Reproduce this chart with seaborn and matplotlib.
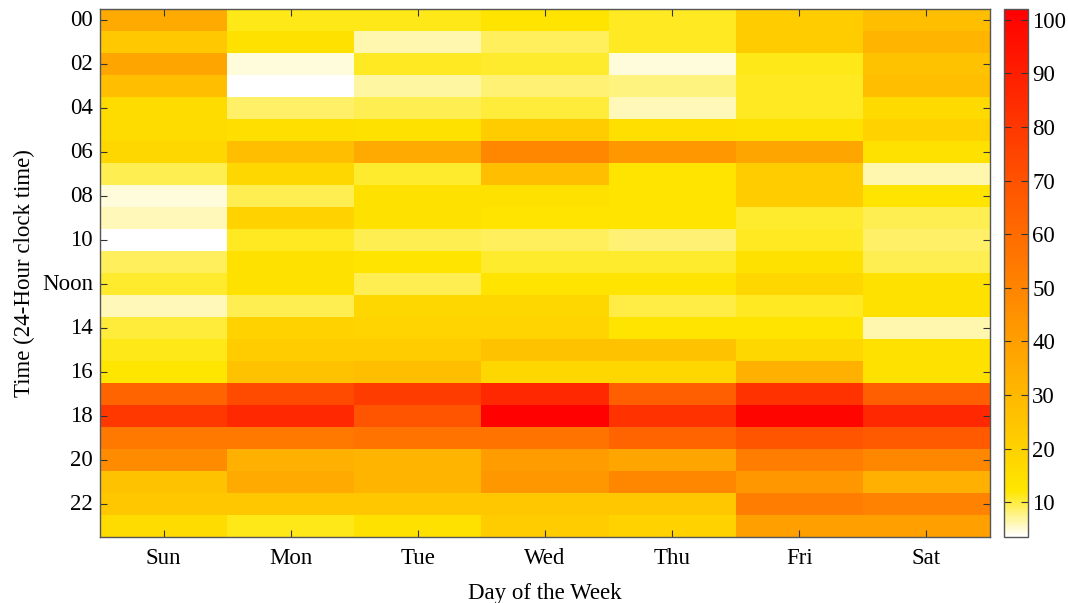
import numpy as np
import pandas as pd
import matplotlib
matplotlib.use("Agg")
import matplotlib.pyplot as plt
import seaborn as sns
from matplotlib.colors import LinearSegmentedColormap

plt.rcParams["font.family"] = ["Liberation Serif", "DejaVu Serif"]

# data (rows = hour 00..23)
days = ["Sun", "Mon", "Tue", "Wed", "Thu", "Fri", "Sat"]
hours = [f"{h:02d}" for h in range(24)]
ytick_labels = ["00", "02", "04", "06", "08", "10", "Noon", "14", "16", "18", "20", "22"]
cbar_ticks = [10, 20, 30, 40, 50, 60, 70, 80, 90, 100]

sun = [35.5, 23.7, 37.4, 27.6, 16, 16, 18, 9.3, 5, 6, 3.5, 9,
       10.7, 6, 10.4, 11.5, 12, 63, 80, 55, 47, 26, 24, 16]
mon = [11.3, 14, 4.7, 3.5, 8.7, 15, 27.6, 18, 9.3, 20, 11, 14,
       14, 9.3, 20, 22, 26, 72.6, 86, 55, 33.5, 35.5, 24, 11.3]
tue = [11.3, 6.3, 11, 6.7, 9.3, 14, 35.5, 10.7, 14, 14, 9.3, 12.8,
       9.3, 18, 19, 22, 27.6, 78.5, 68.7, 57, 31.6, 31.6, 24, 14]
wed = [12.8, 9, 10.7, 8.3, 10.4, 22, 49, 27.6, 14, 12.8, 9, 10.7,
       12.8, 18, 19, 26, 18, 86, 101.5, 57, 41, 43, 24, 22]
thu = [11, 11, 5, 8, 6, 15, 43, 12.8, 12.8, 12.8, 8.3, 10.7,
       12.8, 9.9, 12.8, 26, 18, 65, 82, 63, 37.4, 49, 24, 20]
fri = [22, 22, 11.3, 11, 11, 14, 37.4, 22, 22, 10.7, 11, 14,
       18, 11, 12.8, 18, 33.5, 82, 100, 68.7, 53, 43, 53, 39.4]
sat = [27.6, 31.6, 26, 27.6, 16.7, 20, 14, 6.3, 12.8, 9.3, 8.7, 9.5,
       14, 14, 6.3, 14, 14, 65, 86, 66.7, 49, 33.5, 51, 39.4]

df = pd.DataFrame({"Sun": sun, "Mon": mon, "Tue": tue, "Wed": wed,
                   "Thu": thu, "Fri": fri, "Sat": sat}, index=hours)[days]

vmin, vmax = 3.5, 102
knee = (12 - vmin) / (vmax - vmin)
cmap = LinearSegmentedColormap.from_list(
    "wyr", [(0, "#ffffff"), (knee, "#ffe600"), (1, "#ff0000")])

fig = plt.figure(figsize=(10.68, 6.03), dpi=100)
ax = fig.add_axes([100 / 1068, 1 - 537 / 603, 890 / 1068, 528 / 603])
cax = fig.add_axes([1004 / 1068, 1 - 537 / 603, 24 / 1068, 528 / 603])

sns.heatmap(df, cmap=cmap, vmin=vmin, vmax=vmax, ax=ax, cbar_ax=cax,
            cbar_kws={"ticks": cbar_ticks})

ax.set_yticks(np.arange(0, 24, 2) + 0.5)
ax.set_yticklabels(ytick_labels, rotation=0)
ax.set_xticks(np.arange(len(days)) + 0.5)
ax.set_xticklabels(days, rotation=0)
ax.tick_params(direction="in", top=True, right=True, length=5, width=0.8,
               color="#333333", labelsize=16.5)
ax.tick_params(axis="x", pad=8)
ax.tick_params(axis="y", pad=5)
for s in ax.spines.values():
    s.set_visible(True)
    s.set_color("#555555")
    s.set_linewidth(1)

ax.set_xlabel("Day of the Week", fontsize=16.5, labelpad=10)
ax.set_ylabel("Time (24-Hour clock time)", fontsize=16.5, labelpad=5)

cb = ax.collections[0].colorbar
cb.outline.set_linewidth(1)
cb.outline.set_edgecolor("#555555")
cax.tick_params(direction="in", left=True, right=True, length=5, width=0.8,
                color="#333333", labelsize=16.5, pad=3)

fig.savefig("out.png", dpi=100)
